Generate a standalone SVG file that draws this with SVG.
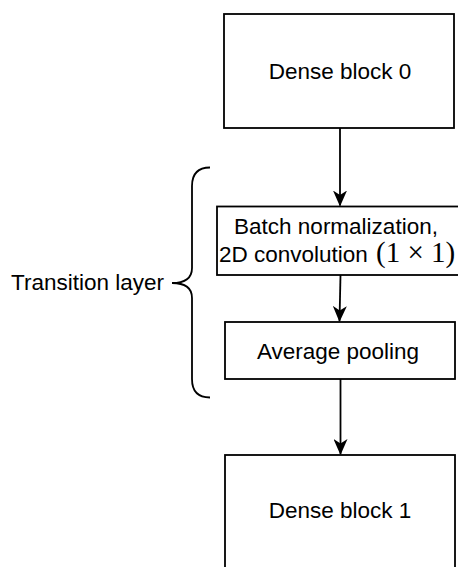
<svg xmlns="http://www.w3.org/2000/svg" width="458" height="567" viewBox="0 0 458 567">
  <style>
    .box { fill: #ffffff; stroke: #000000; stroke-width: 1.8; }
    .lbl { font-family: "Liberation Sans", Arial, sans-serif; font-size: 22.5px; fill: #000000; }
    .math { font-family: "Liberation Serif", "Times New Roman", serif; font-size: 29px; }
    .edge { fill: none; stroke: #000000; stroke-width: 1.8; }
  </style>
  <defs>
    <marker id="arrow" viewBox="0 0 16 14" refX="15" refY="7" markerWidth="16" markerHeight="14" markerUnits="userSpaceOnUse" orient="auto">
      <path d="M0,0 L16,7 L0,14 L4.5,7 Z" fill="#000000"/>
    </marker>
  </defs>

  <rect width="458" height="567" fill="#ffffff"/>

  <g id="dense-block-0">
    <rect class="box" x="224" y="14" width="230" height="114"/>
    <text class="lbl" x="340" y="79" text-anchor="middle">Dense block 0</text>
  </g>

  <g id="batch-norm-conv">
    <rect class="box" x="217" y="206.5" width="250" height="68.5"/>
    <text class="lbl" x="336" y="234" text-anchor="middle">Batch normalization,</text>
    <text class="lbl" x="219" y="262">2D convolution <tspan class="math" dx="2">(1 × 1)</tspan></text>
  </g>

  <g id="average-pooling">
    <rect class="box" x="225" y="322" width="230" height="57"/>
    <text class="lbl" x="338" y="359" text-anchor="middle">Average pooling</text>
  </g>

  <g id="dense-block-1">
    <rect class="box" x="225" y="455" width="230" height="130"/>
    <text class="lbl" x="340" y="518" text-anchor="middle">Dense block 1</text>
  </g>

  <g id="transition-layer">
    <path class="edge" d="M210,167.5 Q192,167.5 192,186 L192,268 Q192,283 172,283 Q192,283 192,298 L192,379 Q192,397.5 210,397.5"/>
    <text class="lbl" x="164" y="290" text-anchor="end">Transition layer</text>
  </g>

  <g id="connectors">
    <line class="edge" x1="340" y1="128" x2="340" y2="205.5" marker-end="url(#arrow)"/>
    <line class="edge" x1="340.5" y1="275" x2="339.5" y2="321" marker-end="url(#arrow)"/>
    <line class="edge" x1="340.5" y1="379" x2="340.5" y2="454" marker-end="url(#arrow)"/>
  </g>
</svg>
